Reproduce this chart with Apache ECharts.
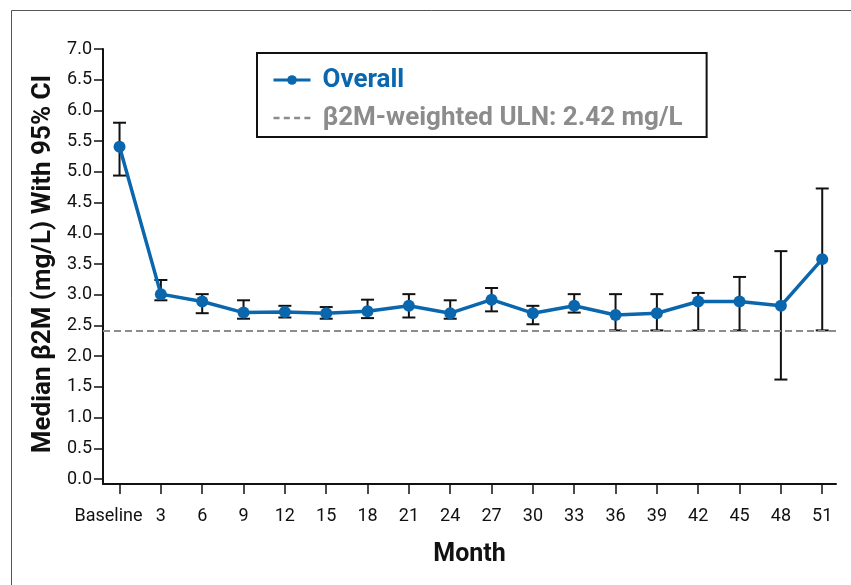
<!DOCTYPE html>
<html>
<head>
<meta charset="utf-8">
<script src="https://cdn.jsdelivr.net/npm/echarts@6/dist/echarts.min.js"></script>
<style>html,body{margin:0;padding:0;background:#fff}#c{width:851px;height:585px}</style>
</head>
<body>
<div id="c"></div>
<script>
// ---- data ----
const months   = [0, 3, 6, 9, 12, 15, 18, 21, 24, 27, 30, 33, 36, 39, 42, 45, 48, 51];
const medians  = [5.41, 3.01, 2.89, 2.71, 2.72, 2.70, 2.73, 2.82, 2.70, 2.92, 2.70, 2.82, 2.67, 2.70, 2.89, 2.89, 2.82, 3.58];
const ciLower  = [4.94, 2.91, 2.70, 2.61, 2.63, 2.61, 2.62, 2.63, 2.61, 2.73, 2.52, 2.71, 2.42, 2.42, 2.42, 2.42, 1.62, 2.42];
const ciUpper  = [5.80, 3.24, 3.01, 2.91, 2.82, 2.80, 2.92, 3.01, 2.91, 3.11, 2.82, 3.01, 3.01, 3.01, 3.03, 3.29, 3.71, 4.73];
const yTicks   = [0, 0.5, 1, 1.5, 2, 2.5, 3, 3.5, 4, 4.5, 5, 5.5, 6, 6.5, 7];
const ulnValue = 2.42;
const seriesName = 'Overall';
const ulnName = 'β2M-weighted ULN: 2.42 mg/L';

const BLUE = '#0a66ad';
const GRAY = '#8c8c8c';
const FONT = 'Roboto, "Open Sans", sans-serif';

const chart = echarts.init(document.getElementById('c'), null, {renderer: 'canvas'});

const lineData = months.map((m, i) => [m, medians[i]]);
const errData = months.map((m, i) => [m, ciLower[i], ciUpper[i]]);

function renderErr(params, api) {
  const x = api.value(0);
  const lo = api.coord([x, api.value(1)]);
  const hi = api.coord([x, api.value(2)]);
  const hw = 6.5;
  const style = {stroke: '#111', lineWidth: 2, fill: null};
  return {
    type: 'group',
    children: [
      {type: 'line', shape: {x1: lo[0], y1: lo[1], x2: hi[0], y2: hi[1]}, style: style},
      {type: 'line', shape: {x1: hi[0] - hw, y1: hi[1], x2: hi[0] + hw, y2: hi[1]}, style: style},
      {type: 'line', shape: {x1: lo[0] - hw, y1: lo[1], x2: lo[0] + hw, y2: lo[1]}, style: style}
    ]
  };
}

chart.setOption({
  animation: false,
  backgroundColor: '#fff',
  graphic: [{
    type: 'rect',
    shape: {x: 11.5, y: 10.5, width: 900, height: 700},
    style: {fill: null, stroke: '#555', lineWidth: 1},
    silent: true, z: -10
  }],
  grid: {left: 103, right: 15, top: 49, bottom: 101, containLabel: false},
  legend: {
    orient: 'vertical',
    left: 257, top: 53,
    padding: [14, 24, 6, 15],
    itemGap: 12,
    itemWidth: 37,
    itemHeight: 12,
    borderColor: '#111',
    borderWidth: 2,
    textStyle: {fontFamily: FONT, fontWeight: 'bold', fontSize: 26, padding: [0, 0, 0, 7]},
    data: [
      {name: seriesName, textStyle: {color: BLUE}, lineStyle: {width: 3}},
      {name: ulnName, textStyle: {color: GRAY}, itemStyle: {opacity: 0, color: 'rgba(0,0,0,0)'}, lineStyle: {width: 2.5, type: [6, 4.3], color: GRAY}}
    ]
  },
  xAxis: {
    type: 'value',
    min: -1.2, max: 52,
    name: 'Month',
    nameLocation: 'middle',
    nameGap: 58,
    nameTextStyle: {fontFamily: FONT, fontWeight: 'bold', fontSize: 25, color: '#111'},
    axisLine: {show: true, onZero: false, lineStyle: {color: '#111', width: 2}},
    axisTick: {show: true, length: 10, customValues: months, lineStyle: {color: '#111', width: 1.5}},
    axisLabel: {
      customValues: months,
      margin: 23,
      fontFamily: FONT, fontSize: 18, color: '#111',
      formatter: v => v === 0 ? '{b|Baseline}' : String(v),
      rich: {b: {fontFamily: FONT, fontSize: 18, color: '#111', padding: [0, 22, 0, 0]}}
    },
    splitLine: {show: false}
  },
  yAxis: {
    type: 'value',
    min: -0.08, max: 7,
    name: 'Median β2M (mg/L) With 95% CI',
    nameLocation: 'middle',
    nameGap: 47,
    nameTextStyle: {fontFamily: FONT, fontWeight: 'bold', fontSize: 26, color: '#111', padding: [0, 0, 0, 5]},
    axisLine: {show: true, onZero: false, lineStyle: {color: '#111', width: 2}},
    axisTick: {show: true, length: 9, customValues: yTicks, lineStyle: {color: '#111', width: 1.5}},
    axisLabel: {
      customValues: yTicks,
      margin: 11,
      fontFamily: FONT, fontSize: 18, color: '#111',
      formatter: v => v.toFixed(1)
    },
    splitLine: {show: false}
  },
  series: [
    {
      type: 'custom',
      name: 'CI',
      renderItem: renderErr,
      data: errData,
      encode: {x: 0, y: [1, 2]},
      z: 2,
      silent: true
    },
    {
      type: 'line',
      name: seriesName,
      data: lineData,
      symbol: 'circle',
      symbolSize: 12,
      itemStyle: {color: BLUE},
      lineStyle: {color: BLUE, width: 3.5},
      z: 5
    },
    {
      type: 'line',
      name: ulnName,
      data: [],
      symbol: 'none',
      showSymbol: false,
      itemStyle: {color: GRAY},
      lineStyle: {color: GRAY, width: 2, type: [6, 4]},
      markLine: {
        silent: true,
        symbol: 'none',
        label: {show: false},
        lineStyle: {color: GRAY, width: 2, type: [7, 4]},
        data: [{yAxis: ulnValue}]
      },
      z: 1
    }
  ]
});
</script>
</body>
</html>
